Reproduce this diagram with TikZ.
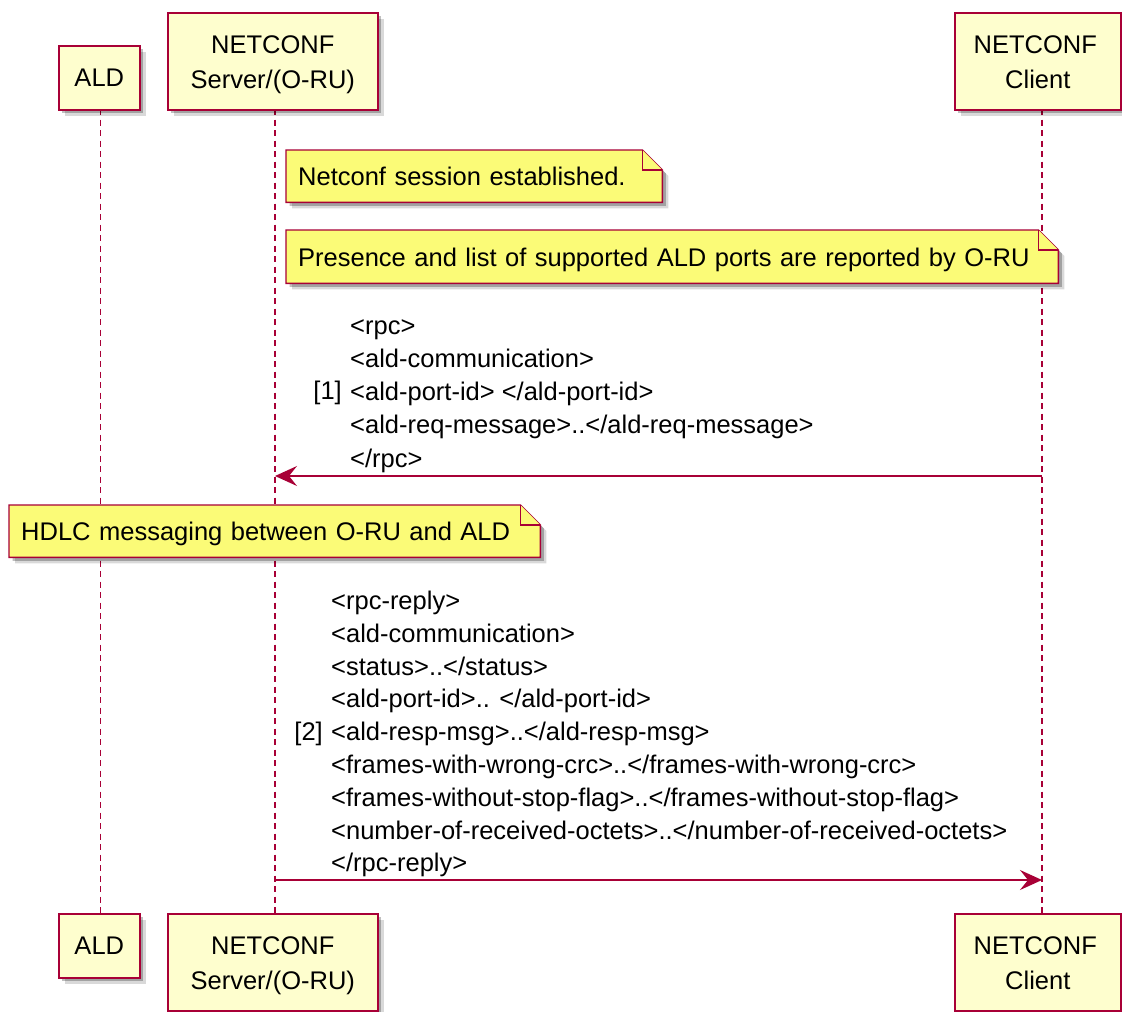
\documentclass[tikz,border=0pt]{standalone}
\usepackage{fontspec}
\setmainfont{Liberation Sans}
\usetikzlibrary{arrows.meta,shadows}
\definecolor{pbord}{HTML}{A80036}
\definecolor{pfill}{HTML}{FEFECE}
\definecolor{nfill}{HTML}{FBFB77}
\newcommand\dgfont{\fontsize{25.5}{33.2}\selectfont}
\newcommand\pfont{\fontsize{25.5}{34.5}\selectfont}
\newcommand\msgfontb{\fontsize{25.5}{32.8}\selectfont}
\newcommand\topgap{\rule{0pt}{25pt}}
\pgfdeclarelayer{lifelayer}
\pgfdeclarelayer{notelayer}
\pgfsetlayers{lifelayer,notelayer,main}
\tikzset{
  partbox/.style={draw=pbord, fill=pfill, line width=1.6pt, align=center,
    font=\pfont, inner sep=0pt,
    drop shadow={shadow xshift=6pt, shadow yshift=-6pt, opacity=.15, fill=black},
    drop shadow={shadow xshift=3.5pt, shadow yshift=-3.5pt, opacity=.25, fill=black}},
  notebox/.style={draw=none, fill=none, inner xsep=12pt, inner ysep=0pt,
    align=left, font=\dgfont, anchor=north west, text height=19pt, text depth=0pt},
  noteline/.style={draw=pbord, fill=nfill, line width=1.4pt, line join=miter},
  noteshadowA/.style={fill=black, opacity=.15},
  noteshadowB/.style={fill=black, opacity=.25},
  msgtext/.style={font=\dgfont, align=left, inner sep=0pt},
  lifeline/.style={draw=pbord, line width=1.3pt, dash pattern=on 6pt off 4.5pt},
  msg/.style={draw=pbord, line width=1.5pt,
    -{Stealth[length=22pt, width=20pt, inset=8pt]}},
}
\newcommand\noteoutline[1]{(#1.north west) -- ([xshift=-20pt]#1.north east)
    -- ([yshift=-20pt]#1.north east) -- (#1.south east) -- (#1.south west) -- cycle}
\newcommand\drawnote[1]{%
  \begin{pgfonlayer}{notelayer}
  \path[noteshadowA, transform canvas={shift={(6pt,-6pt)}}] \noteoutline{#1};
  \path[noteshadowB, transform canvas={shift={(3.5pt,-3.5pt)}}] \noteoutline{#1};
  \path[noteline] \noteoutline{#1};
  \path[noteline] ([xshift=-20pt]#1.north east) -- ([xshift=-20pt,yshift=-20pt]#1.north east)
    -- ([yshift=-20pt]#1.north east);
  \end{pgfonlayer}}
\begin{document}
\begin{tikzpicture}[x=1pt, y=-1pt]
\begin{pgfonlayer}{lifelayer}
\useasboundingbox[fill=white] (0,0) rectangle (1122,1011);
\end{pgfonlayer}

% participants (top)
\node[partbox, minimum width=81pt, minimum height=64pt, anchor=north west] (aldT) at (58,45) {ALD};
\node[partbox, minimum width=210pt, minimum height=97pt, anchor=north west] (srvT) at (167,12) {\topgap NETCONF\\Server/(O-RU)};
\node[partbox, minimum width=166pt, minimum height=97pt, anchor=north west] (cliT) at (954,12) {\topgap NETCONF\kern5pt\\Client\vphantom{(}};
% participants (bottom)
\node[partbox, minimum width=81pt, minimum height=64pt, anchor=north west] (aldB) at (58,913) {ALD};
\node[partbox, minimum width=210pt, minimum height=97pt, anchor=north west] (srvB) at (167,913) {\topgap NETCONF\\Server/(O-RU)};
\node[partbox, minimum width=166pt, minimum height=97pt, anchor=north west] (cliB) at (954,913) {\topgap NETCONF\kern5pt\\Client\vphantom{(}};

% lifelines
\coordinate (aldL1) at (100.5,109);
\coordinate (aldL2) at (100.5,913);
\coordinate (srvL1) at (275,109);
\coordinate (srvL2) at (275,913);
\coordinate (cliL1) at (1042,109);
\coordinate (cliL2) at (1042,913);
\begin{pgfonlayer}{lifelayer}
\draw[lifeline] (aldL1) -- (aldL2);
\draw[lifeline] (srvL1) -- (srvL2);
\draw[lifeline] (cliL1) -- (cliL2);
\end{pgfonlayer}

% notes
\node[notebox, minimum width=376pt, minimum height=52pt, text width=352pt] (note1) at (286,150)
  {\mbox{Netconf session established.}};
\drawnote{note1}
\node[notebox, minimum width=772pt, minimum height=53pt, text width=748pt] (note2) at (286,230)
  {\mbox{Presence and list of supported ALD ports are reported by O-RU}};
\drawnote{note2}
\node[notebox, minimum width=531pt, minimum height=52pt, text width=507pt] (note3) at (9,505)
  {\mbox{HDLC messaging between O-RU and ALD}};
\drawnote{note3}

% message 1
\node[msgtext, anchor=west] (m1) at (350,396)
  {<rpc>\\<ald-communication>\\<ald-port-id> </ald-port-id>\\<ald-req-message>..</ald-req-message>\\</rpc>};
\node[msgtext, anchor=east, yshift=3pt] (m1n) at ([xshift=-8pt]m1.west) {[1]};
\coordinate (m1s) at (1042,476);
\coordinate (m1e) at (275,476);
\draw[msg] (m1s) -- (m1e);

% message 2
\node[msgtext, font=\msgfontb, anchor=west] (m2) at (331,734)
  {<rpc-reply>\\<ald-communication>\\<status>..</status>\\<ald-port-id>.. </ald-port-id>\\<ald-resp-msg>..</ald-resp-msg>\\<frames-with-wrong-crc>..</frames-with-wrong-crc>\\<frames-without-stop-flag>..</frames-without-stop-flag>\\<number-of-received-octets>..</number-of-received-octets>\\</rpc-reply>};
\node[msgtext, anchor=east] (m2n) at ([xshift=-8pt]m2.west) {[2]};
\coordinate (m2s) at (275,880);
\coordinate (m2e) at (1042,880);
\draw[msg] (m2s) -- (m2e);
\end{tikzpicture}
\end{document}
